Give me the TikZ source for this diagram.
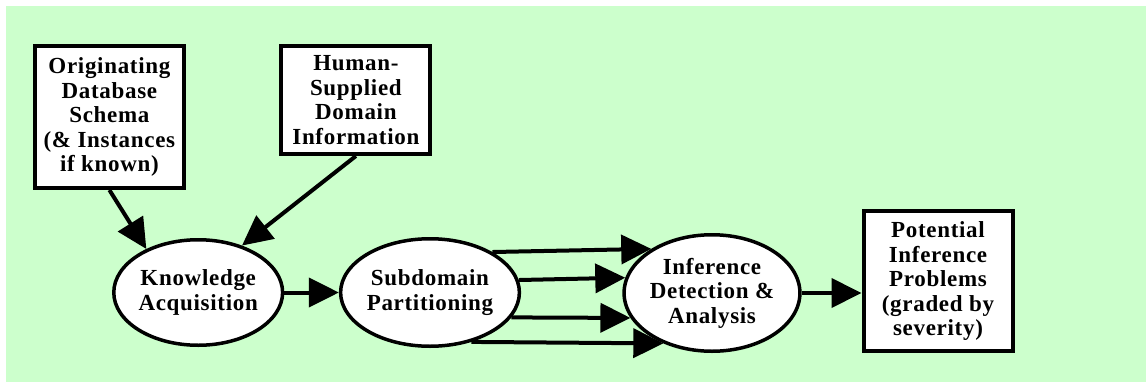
\documentclass[tikz,border=0pt]{standalone}
\usepackage{fontspec}
\setmainfont{Liberation Serif}[LetterSpace=3]
\usetikzlibrary{arrows.meta, shapes.geometric}
\definecolor{flowbg}{HTML}{CCFFCC}
\tikzset{
  >={Triangle[length=30pt, width=29pt]},
  lbl/.style={font=\fontsize{23}{24.5}\selectfont\bfseries, align=center, text=black, inner sep=0pt},
  srcbox/.style={lbl, rectangle, draw=black, line width=4pt, fill=white},
  stage/.style={lbl, ellipse, draw=black, line width=3.5pt, fill=white},
  flow/.style={->, line width=4pt, draw=black},
}
\begin{document}
\begin{tikzpicture}[x=1pt, y=-1pt]
  \useasboundingbox (0,0) rectangle (1146,383);
  \fill[flowbg] (6,6) rectangle (1146,382);
  % inputs
  \node[srcbox, minimum width=149pt, minimum height=142pt] (schema) at (109.4,117)
    {Originating\\Database\\Schema\\(\& Instances\\if known)};
  \node[srcbox, minimum width=149pt, minimum height=108pt] (domain) at (355.9,100)
    {Human-\\Supplied\\Domain\\Information};
  % processing stages
  \node[stage, minimum width=141pt, minimum height=105.5pt] (know) at (198.2,292.5) {Knowledge\\Acquisition};
  \node[stage, minimum width=166.5pt, minimum height=107.5pt] (part) at (430,292.5) {Subdomain\\Partitioning};
  \node[stage, minimum width=146.5pt, minimum height=116.5pt] (detect) at (712,293) {Inference\\Detection \&\\Analysis};
  % output
  \node[srcbox, minimum width=149pt, minimum height=140pt] (probs) at (938,281)
    {Potential\\Inference\\Problems\\(graded by\\severity)};
  \draw[flow] (schema.south) -- (know.140);
  \draw[flow] (domain.south) -- (know.47);
  \draw[flow] (know.east) -- (part.west);
  \foreach \a/\b in {33.5/144.4, 8.6/170, 343.9/197.5, 310.4/226.8}{ \draw[flow] (part.\a) -- (detect.\b); }
  \draw[flow] (detect.east) -- (detect.east -| probs.west);
\end{tikzpicture}
\end{document}
